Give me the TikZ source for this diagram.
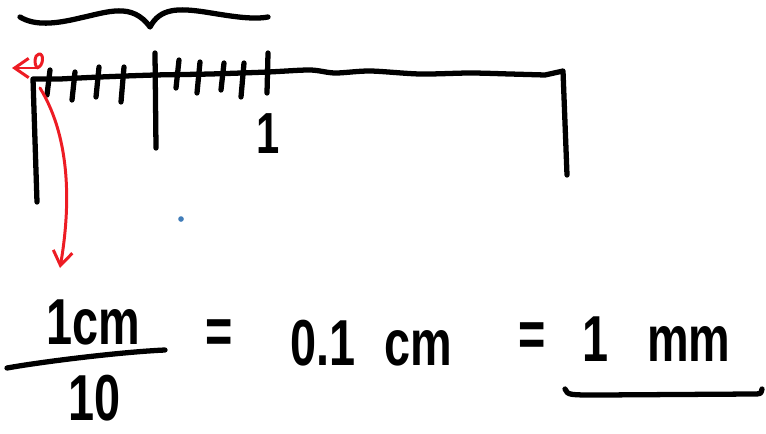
\documentclass[tikz,border=0pt]{standalone}
\usepackage{fontspec}
\setmainfont{Liberation Sans}
\newfontfamily\handfont[FakeStretch=0.72]{Liberation Sans Bold}
\usepackage{tikz}
\usetikzlibrary{arrows.meta, positioning}

\definecolor{penred}{RGB}{237,28,36}
\definecolor{dotblue}{RGB}{65,125,185}

\begin{document}
\begin{tikzpicture}[
        x=0.02cm, y=-0.02cm,
        pen/.style={
            line width=3pt,
            line cap=round,
            line join=round,
            black
        },
        redpen/.style={
            line width=1.7pt,
            line cap=round,
            line join=round,
            penred
        },
        handtext/.style={
            inner sep=0pt,
            font=\handfont\fontsize{37}{40}\selectfont
        }
    ]
    \useasboundingbox (0,0) rectangle (766,433);

    % Brace over the first centimetre
    \draw[pen] (20,17) .. controls (35,26) and (55,24) .. (80,18)
        .. controls (108,12) and (132,2) .. (150,27)
        .. controls (160,8) and (178,8) .. (205,12)
        .. controls (230,16) and (252,20) .. (268,17);

    % Ruler
    \coordinate (zero) at (33,79);
    \coordinate (rulerend) at (563,71);
    \draw[pen] (37,202) -- (zero) -- plot[smooth] coordinates {(60,79) (100,77) (155,75) (210,74) (268,72)
        (310,70) (335,73) (370,71) (420,74) (470,73) (510,74) (545,75)} -- (rulerend) -- (567,175);

    \foreach \x/\ya/\yb in {48/70/95, 73/72/100, 97/67/97, 122/67/102,
                            177/60/88, 198/62/93, 222/63/90, 242/63/97}
        \draw[pen] (\x+2,\ya) -- (\x-1,\yb);
    \draw[pen] (155,53) -- (156,148);
    \draw[pen] (268,53) -- (267,93);

    \node[handtext, font=\handfont\fontsize{33}{36}\selectfont] (scaleone) at (268,134) {1};

    % One millimetre
    \coordinate (mmstart) at (40,88);
    \coordinate (mmtip) at (60,268);
    \draw[redpen, -{Straight Barb[length=8pt,width=11pt]}] (37,68) -- (12,68);
    \draw[redpen] (37,68) .. controls (44,66) and (44,53) .. (39,54) .. controls (34,55) and (34,64) .. (37,68);
    \draw[redpen, -{Straight Barb[length=8pt,width=11pt]}] (mmstart) .. controls (72,140) and (70,210) .. (mmtip);

    \fill[dotblue] (181,219) circle (1.6pt);

    % Working
    \node[handtext, anchor=base west] (onecm) at (46,344) {1cm};
    \node[handtext, anchor=base west] (ten) at (68,420) {10};
    \draw[pen] (7,368) .. controls (40,362) and (120,352) .. (165,350);
    \node[handtext] (eqone) at (219,337) {=};
    \node[handtext, anchor=base west] (pointone) at (290,365) {0.1\hspace{0.45em}cm};
    \node[handtext] (eqtwo) at (532,340) {=};
    \node[handtext, anchor=base west] (onemm) at (582,361) {1\hspace{0.6em}mm};
    \draw[pen] (565,389) .. controls (568,395) .. (600,395) -- (752,394) .. controls (761,394) .. (762,389);

    \end{tikzpicture}
\end{document}
